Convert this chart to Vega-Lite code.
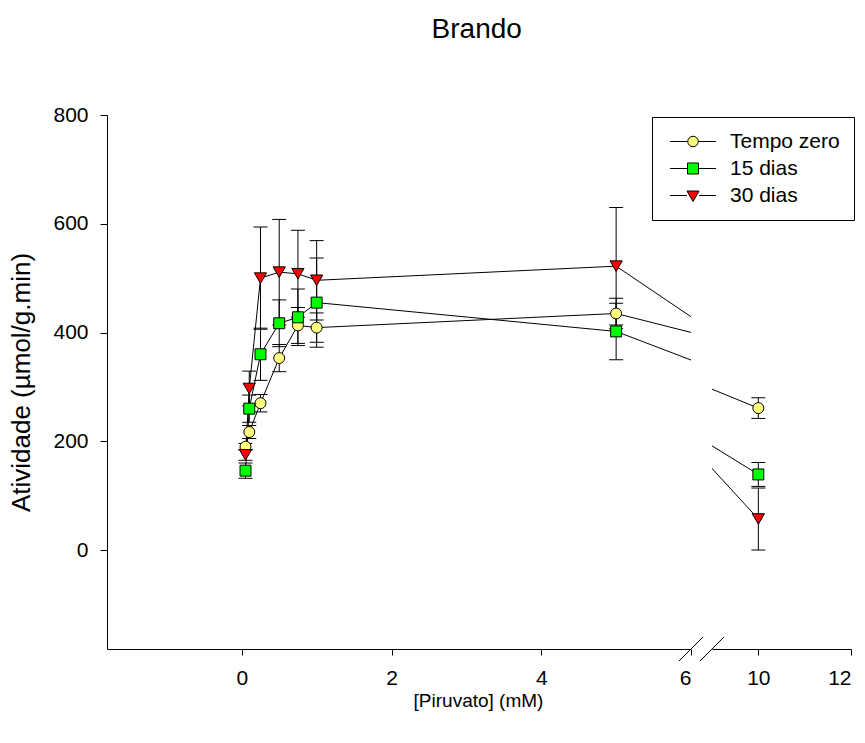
{
  "$schema": "https://vega.github.io/schema/vega-lite/v6.json",
  "padding": {"left": 8, "top": 16, "right": 5, "bottom": 5},
  "title": {"text": "Brando", "fontSize": 28, "fontWeight": "normal", "font": "Liberation Sans", "color": "black", "offset": 60, "anchor": "middle", "dx": 45},
  "bounds": "flush",
  "spacing": 21,
  "config": {
    "view": {"stroke": null},
    "font": "Liberation Sans",
    "axis": {"grid": false, "domainColor": "black", "tickColor": "black", "labelColor": "black", "titleColor": "black", "labelFontSize": 21, "titleFontSize": 26, "titleFontWeight": "normal", "domainWidth": 1, "tickWidth": 1, "labelFont": "Liberation Sans", "titleFont": "Liberation Sans"}
  },
  "data": {"values": [
    {"series": "Tempo zero", "x": 0.05, "y": 190, "lo": 184, "hi": 196},
    {"series": "Tempo zero", "x": 0.1, "y": 217, "lo": 205, "hi": 229},
    {"series": "Tempo zero", "x": 0.25, "y": 270, "lo": 254, "hi": 286},
    {"series": "Tempo zero", "x": 0.5, "y": 353, "lo": 328, "hi": 378},
    {"series": "Tempo zero", "x": 0.75, "y": 413, "lo": 380, "hi": 446},
    {"series": "Tempo zero", "x": 1, "y": 409, "lo": 382, "hi": 436},
    {"series": "Tempo zero", "x": 5, "y": 435, "lo": 407, "hi": 463},
    {"series": "Tempo zero", "x": 10, "y": 261, "lo": 242, "hi": 280},
    {"series": "15 dias", "x": 0.05, "y": 146, "lo": 132, "hi": 160},
    {"series": "15 dias", "x": 0.1, "y": 260, "lo": 235, "hi": 285},
    {"series": "15 dias", "x": 0.25, "y": 360, "lo": 312, "hi": 408},
    {"series": "15 dias", "x": 0.5, "y": 417, "lo": 374, "hi": 460},
    {"series": "15 dias", "x": 0.75, "y": 428, "lo": 376, "hi": 480},
    {"series": "15 dias", "x": 1, "y": 455, "lo": 373, "hi": 537},
    {"series": "15 dias", "x": 5, "y": 402, "lo": 350, "hi": 454},
    {"series": "15 dias", "x": 10, "y": 139, "lo": 117, "hi": 161},
    {"series": "30 dias", "x": 0.05, "y": 175, "lo": 165, "hi": 185},
    {"series": "30 dias", "x": 0.1, "y": 297, "lo": 265, "hi": 329},
    {"series": "30 dias", "x": 0.25, "y": 500, "lo": 406, "hi": 594},
    {"series": "30 dias", "x": 0.5, "y": 511, "lo": 414, "hi": 608},
    {"series": "30 dias", "x": 0.75, "y": 508, "lo": 428, "hi": 588},
    {"series": "30 dias", "x": 1, "y": 496, "lo": 423, "hi": 569},
    {"series": "30 dias", "x": 5, "y": 522, "lo": 414, "hi": 630},
    {"series": "30 dias", "x": 10, "y": 57, "lo": 0, "hi": 114}
  ]},
  "hconcat": [
    {
      "width": 584,
      "height": 534,
      "encoding": {
        "x": {"field": "x", "type": "quantitative", "scale": {"domain": [-1.8, 6], "nice": false, "zero": false},
              "axis": {"values": [0, 2, 4, 6], "title": "[Piruvato] (mM)", "titleFontSize": 19, "titleX": 371, "titleY": 51, "titleBaseline": "middle", "tickSize": 6, "labelPadding": 12}},
        "y": {"field": "y", "type": "quantitative", "scale": {"domain": [-182, 800], "nice": false, "zero": false},
              "axis": {"values": [0, 200, 400, 600, 800], "title": "Atividade (µmol/g.min)", "tickSize": 7, "labelPadding": 12, "titlePadding": 18}}
      },
      "layer": [
        {"mark": {"type": "line", "clip": true, "color": "black", "strokeWidth": 1},
         "encoding": {"detail": {"field": "series"}, "order": {"field": "x"}}},
        {"transform": [{"filter": "datum.x <= 6"}],
         "mark": {"type": "rule", "color": "black", "strokeWidth": 1},
         "encoding": {"y": {"field": "lo", "type": "quantitative"}, "y2": {"field": "hi"}}},
        {"transform": [{"filter": "datum.x <= 6"}],
         "mark": {"type": "tick", "orient": "horizontal", "color": "black", "size": 14, "thickness": 1, "opacity": 1},
         "encoding": {"y": {"field": "lo", "type": "quantitative"}}},
        {"transform": [{"filter": "datum.x <= 6"}],
         "mark": {"type": "tick", "orient": "horizontal", "color": "black", "size": 14, "thickness": 1, "opacity": 1},
         "encoding": {"y": {"field": "hi", "type": "quantitative"}}},
        {"transform": [{"filter": "datum.x <= 6"}],
         "mark": {"type": "point", "filled": true, "opacity": 1, "stroke": "black", "strokeWidth": 1},
         "encoding": {
           "fill": {"condition": [{"test": "datum.series === '15 dias'", "value": "#00ff00"}, {"test": "datum.series === '30 dias'", "value": "#ff0000"}], "value": "#ffff80"},
           "shape": {"condition": [{"test": "datum.series === '15 dias'", "value": "square"}, {"test": "datum.series === '30 dias'", "value": "triangle-down"}], "value": "circle"},
           "size": {"condition": {"test": "datum.series === '30 dias'", "value": 150}, "value": 120}
         }},
        {"transform": [{"filter": "false"}],
         "mark": {"type": "point", "filled": true, "opacity": 1, "stroke": "black", "strokeWidth": 1, "size": 110},
         "encoding": {
           "fill": {"field": "series", "type": "nominal", "scale": {"domain": ["Tempo zero", "15 dias", "30 dias"], "range": ["#ffff80", "#00ff00", "#ff0000"]},
                    "legend": {"title": null, "orient": "none", "legendX": 545, "legendY": 2, "strokeColor": "black", "fillColor": "white", "padding": 14, "rowPadding": 5, "labelFontSize": 21, "labelColor": "black", "labelOffset": 43, "symbolSize": 110, "symbolStrokeWidth": 1, "symbolOpacity": 1, "labelLimit": 300}},
           "shape": {"field": "series", "type": "nominal", "scale": {"domain": ["Tempo zero", "15 dias", "30 dias"], "range": ["M-1.24,0H2.15M4.15,0H7.53M2.15,0A1,1 0 1,0 4.15,0A1,1 0 1,0 2.15,0Z", "M-1.24,0H2.1M4.2,0H7.53M2.1,-1.05H4.2V1.05H2.1Z", "M-1.24,0H2.0M4.3,0H7.53M2.0,-0.85H4.3L3.15,1.15Z"]},
                    "legend": {"title": null, "orient": "none", "legendX": 545, "legendY": 2, "strokeColor": "black", "fillColor": "white", "padding": 14, "rowPadding": 5, "labelFontSize": 21, "labelColor": "black", "labelOffset": 43, "symbolSize": 110, "symbolStrokeWidth": 1, "symbolOpacity": 1, "labelLimit": 300}}
         }},
        {"mark": {"type": "point", "shape": "M-1,1L1,-1", "filled": false, "stroke": "black", "strokeWidth": 1, "size": 529, "opacity": 1},
         "encoding": {"x": {"datum": 6, "type": "quantitative"}, "y": {"datum": -182, "type": "quantitative"}}}
      ]
    },
    {
      "width": 139,
      "height": 534,
      "encoding": {
        "x": {"field": "x", "type": "quantitative", "scale": {"domain": [9, 12], "nice": false, "zero": false},
              "axis": {"values": [10, 12], "title": null, "tickSize": 6, "labelPadding": 12}},
        "y": {"field": "y", "type": "quantitative", "scale": {"domain": [-182, 800], "nice": false, "zero": false}, "axis": null}
      },
      "layer": [
        {"mark": {"type": "line", "clip": true, "color": "black", "strokeWidth": 1},
         "encoding": {"detail": {"field": "series"}, "order": {"field": "x"}}},
        {"transform": [{"filter": "datum.x >= 9"}],
         "mark": {"type": "rule", "color": "black", "strokeWidth": 1},
         "encoding": {"y": {"field": "lo", "type": "quantitative"}, "y2": {"field": "hi"}}},
        {"transform": [{"filter": "datum.x >= 9"}],
         "mark": {"type": "tick", "orient": "horizontal", "color": "black", "size": 14, "thickness": 1, "opacity": 1},
         "encoding": {"y": {"field": "lo", "type": "quantitative"}}},
        {"transform": [{"filter": "datum.x >= 9"}],
         "mark": {"type": "tick", "orient": "horizontal", "color": "black", "size": 14, "thickness": 1, "opacity": 1},
         "encoding": {"y": {"field": "hi", "type": "quantitative"}}},
        {"transform": [{"filter": "datum.x >= 9"}],
         "mark": {"type": "point", "filled": true, "opacity": 1, "stroke": "black", "strokeWidth": 1},
         "encoding": {
           "fill": {"condition": [{"test": "datum.series === '15 dias'", "value": "#00ff00"}, {"test": "datum.series === '30 dias'", "value": "#ff0000"}], "value": "#ffff80"},
           "shape": {"condition": [{"test": "datum.series === '15 dias'", "value": "square"}, {"test": "datum.series === '30 dias'", "value": "triangle-down"}], "value": "circle"},
           "size": {"condition": {"test": "datum.series === '30 dias'", "value": 150}, "value": 120}
         }},
        {"mark": {"type": "point", "shape": "M-1,1L1,-1", "filled": false, "stroke": "black", "strokeWidth": 1, "size": 529, "opacity": 1},
         "encoding": {"x": {"datum": 9, "type": "quantitative"}, "y": {"datum": -182, "type": "quantitative"}}}
      ]
    }
  ]
}
